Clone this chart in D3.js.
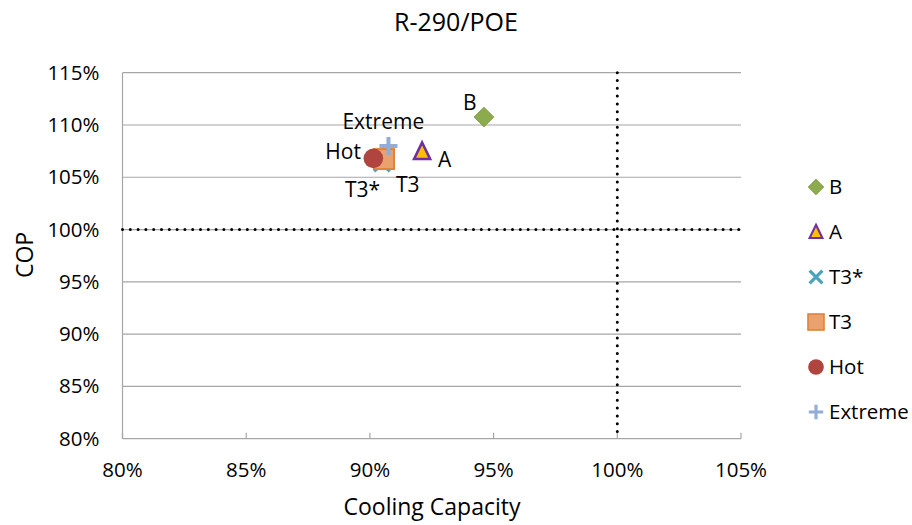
<!DOCTYPE html>
<html><head><meta charset="utf-8">
<script src="https://cdn.jsdelivr.net/npm/d3@7"></script>
<style>body{margin:0;background:#fff;} text{font-family:"Open Sans",sans-serif;fill:#000;}</style>
</head><body>
<svg id="c" width="912" height="525"></svg>
<script>
const seriesNames = ["B","A","T3*","T3","Hot","Extreme"];
const capacity = [0.9461, 0.9211, 0.9049, 0.9057, 0.9014, 0.9075];
const cop = [1.1076, 1.0746, 1.0636, 1.0674, 1.0681, 1.0798];
const xTicks = [0.80,0.85,0.90,0.95,1.00,1.05];
const yTicks = [0.80,0.85,0.90,0.95,1.00,1.05,1.10,1.15];

const svg = d3.select("#c");
const L=122.5, R=741, T=72.7, B=438.7;
const x = d3.scaleLinear().domain([0.80,1.05]).range([L,R]);
const y = d3.scaleLinear().domain([0.80,1.15]).range([B,T]);
const pct = d3.format(".0%");
const grid="#a6a6a6";

// gridlines
svg.append("g").selectAll("line").data(yTicks.filter(d=>d>0.80)).join("line")
  .attr("x1",L).attr("x2",R).attr("y1",d=>y(d)).attr("y2",d=>y(d))
  .attr("stroke",grid).attr("stroke-width",1.2);
// axes lines
svg.append("line").attr("x1",L).attr("x2",L).attr("y1",T).attr("y2",B).attr("stroke",grid).attr("stroke-width",1.2);
svg.append("line").attr("x1",L).attr("x2",R).attr("y1",B).attr("y2",B).attr("stroke",grid).attr("stroke-width",1.2);
// x ticks inward
svg.append("g").selectAll("line").data(xTicks).join("line")
  .attr("x1",d=>x(d)).attr("x2",d=>x(d)).attr("y1",B).attr("y2",B-6)
  .attr("stroke",grid).attr("stroke-width",1.2);

// reference dotted lines
svg.append("line").attr("x1",x(1.0)).attr("x2",x(1.0)).attr("y1",T).attr("y2",B)
  .attr("stroke","#000").attr("stroke-width",3).attr("stroke-linecap","round").attr("stroke-dasharray","0 7.8");
svg.append("line").attr("x1",L).attr("x2",R+1).attr("y1",y(1.0)).attr("y2",y(1.0))
  .attr("stroke","#000").attr("stroke-width",3).attr("stroke-linecap","round").attr("stroke-dasharray","0 7.8");

// tick labels
svg.append("g").selectAll("text").data(xTicks).join("text")
  .attr("x",d=>x(d)).attr("y",B+38).attr("text-anchor","middle").attr("font-size",20.5).text(pct);
svg.append("g").selectAll("text").data(yTicks).join("text")
  .attr("x",L-23).attr("y",d=>y(d)+7).attr("text-anchor","end").attr("font-size",20.5).text(pct);

// titles
svg.append("text").attr("x",456).attr("y",31).attr("text-anchor","middle").attr("font-size",25).text("R-290/POE");
svg.append("text").attr("x",432).attr("y",515).attr("text-anchor","middle").attr("font-size",23).text("Cooling Capacity");
svg.append("text").attr("transform","translate(33,255) rotate(-90)").attr("text-anchor","middle").attr("font-size",23).text("COP");

// markers
function marker(g, name){
  if(name==="B") g.append("rect").attr("x",-7).attr("y",-7).attr("width",14).attr("height",14).attr("transform","rotate(45)").attr("fill","#8cab4e").attr("stroke","#7f9d45").attr("stroke-width",0.8);
  else if(name==="A") g.append("path").attr("d","M0,-9L8,7.5L-8,7.5Z").attr("fill","#ffc000").attr("stroke","#7030a0").attr("stroke-width",2.6).attr("stroke-linejoin","miter");
  else if(name==="T3*") g.append("path").attr("d","M-8,-8L8,8M-8,8L8,-8").attr("stroke","#4aa3bd").attr("stroke-width",4);
  else if(name==="T3") g.append("rect").attr("x",-10).attr("y",-10).attr("width",20).attr("height",20).attr("fill","#e9a26e").attr("stroke","#e0823a").attr("stroke-width",2);
  else if(name==="Hot") g.append("circle").attr("r",9.8).attr("fill","#b0443f");
  else if(name==="Extreme") g.append("path").attr("d","M-9,0L9,0M0,-9L0,9").attr("stroke","#93aed6").attr("stroke-width",4);
}
seriesNames.forEach((n,i)=>{
  const g=svg.append("g").attr("transform",`translate(${x(capacity[i])},${y(cop[i])})`);
  marker(g,n);
});
// data labels (start-anchored offsets from marker)
const labelOffsets = {"B":[-21,-7],"A":[16,15.5],"T3*":[-37,34],"T3":[12,33],"Hot":[-48,1],"Extreme":[-46,-17]};
seriesNames.forEach((n,i)=>{
  const o=labelOffsets[n];
  svg.append("text").attr("x",x(capacity[i])+o[0]).attr("y",y(cop[i])+o[1]).attr("font-size",21).text(n);
});

// legend
const lg = svg.append("g");
seriesNames.forEach((n,i)=>{
  const yy=187+i*45;
  const g=lg.append("g").attr("transform",`translate(816,${yy})`);
  const s = g.append("g").attr("transform","scale(0.8)");
  marker(s,n);
  lg.append("text").attr("x",829).attr("y",yy+7).attr("font-size",20.5).text(n);
});
</script>
</body></html>
